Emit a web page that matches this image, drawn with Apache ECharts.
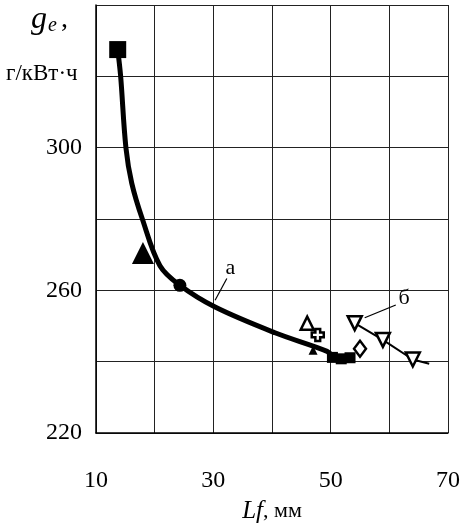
<!DOCTYPE html>
<html>
<head>
<meta charset="utf-8">
<script src="https://cdn.jsdelivr.net/npm/echarts@6/dist/echarts.min.js"></script>
<style>
  html, body { margin: 0; padding: 0; background: #fff; }
  #main { width: 462px; height: 524px; }
</style>
</head>
<body>
<div id="main"></div>
<script>
// кривая а
let curveX = [13.7, 14.2, 15.1, 16.1, 17.9, 20.9, 24.3, 30.3, 40.5, 49.4, 50.3]
let curveY = [327.5, 320, 300, 290, 280, 266.9, 261.4, 255.3, 248.1, 242.9, 241.5]
// кривая б (перевернутые треугольники)
let lineBX = [54.1, 58.9, 64.0, 66.8]
let lineBY = [250.8, 246.1, 240.6, 239.4]
let invTriX = [54.1, 58.9, 64.0]
let invTriY = [250.8, 246.1, 240.6]
// отдельные точки
let squareBig = [[13.7, 327.5]]
let triBig = [[18.0, 270.5]]
let dotBig = [[24.3, 261.4]]
let openTri = [[46.0, 250.8]]
let openPlus = [[47.8, 247.5]]
let smallTri = [[47.0, 243.2]]
let smallSquares = [[50.3, 241.2], [51.8, 240.8], [53.3, 241.1]]
let openDiamond = [[55.0, 243.6]]
// подписи и выноски
let leaderA = [[32.3, 263.3], [30.3, 257.2]]
let leaderB = [[61.1, 255.9], [55.8, 252.3]]
let labelA = [[32.9, 266.4]]
let labelB = [[62.5, 258.0]]
let xTicks = [10, 30, 50, 70]
let yTicks = [220, 260, 300]

function pairs(xs, ys) {
    let out = []
    for (let i = 0; i < xs.length; i++) out.push([xs[i], ys[i]])
    return out
}

const serif = 'Liberation Serif'
const plusPath = 'path://M3,0 L7,0 L7,3 L10,3 L10,7 L7,7 L7,10 L3,10 L3,7 L0,7 L0,3 L3,3 Z'

var myChart = echarts.init(document.getElementById('main'))

function scatter(data, symbol, size, filled, rotate) {
    return {
        type: 'scatter',
        data: data,
        symbol: symbol,
        symbolSize: size,
        symbolRotate: rotate || 0,
        itemStyle: filled
            ? { color: '#000', opacity: 1 }
            : { color: '#fff', borderColor: '#000', borderWidth: 2.5, opacity: 1 },
        z: 5
    }
}

function textAt(data, text) {
    return {
        type: 'scatter', data: data, symbolSize: 1,
        itemStyle: { color: '#fff', opacity: 1 },
        label: { show: true, formatter: text, position: 'top', distance: -12,
            textBorderWidth: 0, fontFamily: serif, fontSize: 22, color: '#000' },
        z: 6
    }
}

var option = {
    animation: false,
    backgroundColor: '#fff',
    grid: { left: 96, right: 14, top: 5, bottom: 91, outerBoundsMode: 'none', containLabel: false },
    xAxis: {
        type: 'value',
        min: 10, max: 70, interval: 10,
        axisLine: { show: true, onZero: false, lineStyle: { color: '#000', width: 1.5 } },
        axisTick: { show: false },
        splitLine: { show: true, lineStyle: { color: '#222', width: 1 } },
        axisLabel: {
            margin: 36,
            fontFamily: serif, fontSize: 24, color: '#000',
            formatter: v => xTicks.includes(v) ? String(v) : ''
        },
        name: '{i|Lf}{n|, мм}',
        nameLocation: 'middle',
        nameGap: 66,
        nameTextStyle: {
            rich: {
                i: { fontFamily: serif, fontStyle: 'italic', fontSize: 25, color: '#000' },
                n: { fontFamily: serif, fontSize: 22, color: '#000' }
            }
        }
    },
    yAxis: {
        type: 'value',
        min: 220, max: 340, interval: 20,
        axisLine: { show: true, onZero: false, lineStyle: { color: '#000', width: 1.5 } },
        axisTick: { show: false },
        splitLine: { show: true, lineStyle: { color: '#222', width: 1 } },
        axisLabel: {
            margin: 14,
            fontFamily: serif, fontSize: 24, color: '#000',
            formatter: v => yTicks.includes(v) ? String(v) : ''
        }
    },
    graphic: [
        { type: 'text', left: 31, top: 4,
          style: { text: '{g|g}{e|e}{c|,}', rich: {
              g: { fontFamily: serif, fontStyle: 'italic', fontSize: 32, fill: '#000' },
              e: { fontFamily: serif, fontStyle: 'italic', fontSize: 20, fill: '#000', padding: [12, 0, 0, 1] },
              c: { fontFamily: serif, fontSize: 28, fill: '#000', padding: [0, 0, 0, 4] }
          } } },
        { type: 'text', left: 6, top: 62,
          style: { text: 'г/кВт·ч', fontFamily: serif, fontSize: 23, fill: '#000' } }
    ],
    series: [
        {
            type: 'line',
            data: pairs(curveX, curveY),
            smooth: 0.35,
            showSymbol: false,
            lineStyle: { color: '#000', width: 5 },
            z: 3
        },
        {
            type: 'line',
            data: pairs(lineBX, lineBY),
            showSymbol: false,
            lineStyle: { color: '#000', width: 2 },
            z: 3
        },
        {
            type: 'line', data: leaderA, showSymbol: false,
            lineStyle: { color: '#000', width: 1.2 }
        },
        {
            type: 'line', data: leaderB, showSymbol: false,
            lineStyle: { color: '#000', width: 1.2 }
        },
        textAt(labelA, 'а'),
        textAt(labelB, 'б'),
        scatter(squareBig, 'rect', 17, true),
        scatter(triBig, 'triangle', 22, true),
        scatter(dotBig, 'circle', 13, true),
        scatter(openTri, 'triangle', 13, false),
        scatter(openPlus, plusPath, 12, false),
        scatter(smallTri, 'triangle', 9, true),
        scatter(smallSquares, 'rect', 11, true),
        scatter(openDiamond, 'diamond', [12, 16], false),
        scatter(pairs(invTriX, invTriY), 'triangle', 14, false, 180)
    ]
}

myChart.setOption(option)
</script>
</body>
</html>
